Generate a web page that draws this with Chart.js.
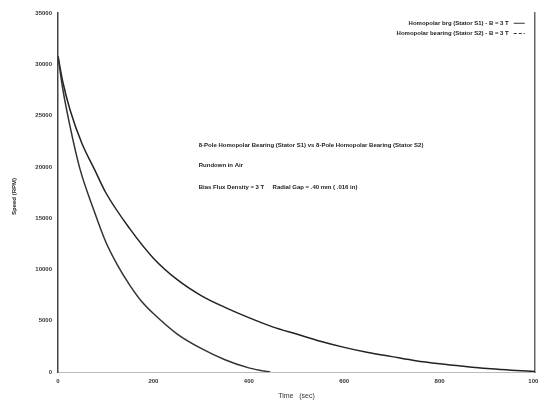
<!DOCTYPE html>
<html>
<head>
<meta charset="utf-8">
<script src="https://cdn.jsdelivr.net/npm/chart.js@4.4.1/dist/chart.umd.min.js"></script>
<style>
  html, body { margin: 0; padding: 0; background: #fff; }
  canvas { display: block; }
</style>
</head>
<body>
<canvas id="grafico" width="538" height="400"></canvas>
<script>
// Stator S1 (curva de abajo)
const tiempoS1 = [0, 10, 25, 46, 75, 100, 125, 150, 175, 200, 250, 300, 350, 400, 425, 445];
const velocidadS1 = [30800, 27600, 24000, 19800, 15800, 12700, 10400, 8500, 6900, 5700, 3700, 2300, 1200, 400, 150, 0];

// Stator S2 (curva de arriba)
const tiempoS2 = [0, 10, 25, 50, 76, 100, 150, 200, 250, 300, 350, 400, 450, 500, 550, 600, 650, 700, 750, 800, 850, 900, 950, 1000];
const velocidadS2 = [30800, 28300, 25600, 22300, 19800, 17500, 14000, 11100, 9000, 7450, 6300, 5300, 4400, 3700, 3000, 2400, 1900, 1500, 1100, 800, 550, 330, 180, 50];

const etiquetas = ['Homopolar brg (Stator S1) - B = 3 T', 'Homopolar bearing (Stator S2) - B = 3 T'];
const notas = [
  '8-Pole Homopolar Bearing (Stator S1) vs 8-Pole Homopolar Bearing (Stator S2)',
  'Rundown in Air',
  'Bias Flux Density = 3 T     Radial Gap = .40 mm ( .016 in)'
];

const fuente = { family: 'Liberation Sans, Arial, sans-serif', size: 6, weight: 'bold' };

function puntos(xs, ys) {
  return xs.map((x, i) => ({ x: x, y: ys[i] }));
}

// textos y leyenda dibujados dentro del area del grafico
const notasPlugin = {
  id: 'notas',
  afterDraw(chart) {
    const ctx = chart.ctx;
    const x = chart.scales.x, y = chart.scales.y;
    ctx.save();
    ctx.fillStyle = '#222';
    ctx.font = 'bold 6px Liberation Sans, Arial, sans-serif';
    ctx.textBaseline = 'middle';
    ctx.textAlign = 'left';
    const px = x.getPixelForValue(295);
    ctx.fillText(notas[0], px, y.getPixelForValue(22100));
    ctx.fillText(notas[1], px, y.getPixelForValue(20100));
    ctx.fillText(notas[2], px, y.getPixelForValue(18000));

    // leyenda
    ctx.textAlign = 'right';
    const lx = x.getPixelForValue(945);
    const filas = [34000, 33000];
    const guiones = [[], [3, 2]];
    for (let i = 0; i < 2; i++) {
      const ly = y.getPixelForValue(filas[i]);
      ctx.fillText(etiquetas[i], lx, ly);
      ctx.beginPath();
      ctx.setLineDash(guiones[i]);
      ctx.lineWidth = 1;
      ctx.strokeStyle = '#333';
      ctx.moveTo(lx + 5, ly);
      ctx.lineTo(lx + 16, ly);
      ctx.stroke();
    }
    ctx.setLineDash([]);

    // titulo del eje Y
    ctx.translate(14, (y.top + y.bottom) / 2 + 4);
    ctx.rotate(-Math.PI / 2);
    ctx.textAlign = 'center';
    ctx.fillText('Speed (RPM)', 0, 0);
    ctx.restore();
  }
};

new Chart(document.getElementById('grafico'), {
  type: 'line',
  data: {
    datasets: [
      {
        label: etiquetas[0],
        data: puntos(tiempoS1, velocidadS1),
        borderColor: '#333',
        borderWidth: 1.5,
        pointRadius: 0,
        cubicInterpolationMode: 'monotone',
        fill: false
      },
      {
        label: etiquetas[1],
        data: puntos(tiempoS2, velocidadS2),
        borderColor: '#222',
        borderWidth: 1.5,
        pointRadius: 0,
        cubicInterpolationMode: 'monotone',
        fill: false
      }
    ]
  },
  options: {
    responsive: false,
    animation: false,
    layout: { padding: { top: 13, right: 1, left: 0, bottom: 0 } },
    plugins: { legend: { display: false }, tooltip: { enabled: false } },
    scales: {
      x: {
        type: 'linear',
        min: 0, max: 1000,
        ticks: { stepSize: 200, color: '#333', font: fuente, padding: 6, maxRotation: 0, callback: v => String(v) },
        grid: { display: false, drawTicks: false },
        border: { display: true, color: '#bbb', dash: [2, 10] },
        title: { display: true, text: 'Time   (sec)', color: '#333', font: { family: 'Liberation Sans, Arial, sans-serif', size: 7 }, padding: { top: 2, bottom: 0 } },
        afterFit(scale) {
          scale.height = 28;
          scale.paddingLeft = 0;
          scale.paddingRight = 0;
        }
      },
      y: {
        min: 0, max: 35000,
        ticks: { stepSize: 5000, color: '#333', font: fuente, padding: 6, callback: v => String(v) },
        grid: { display: false, drawTicks: false },
        border: { display: true, color: '#444', width: 1.5 },
        afterFit(scale) { scale.width = 58; }
      },
      y2: {
        position: 'right',
        min: 0, max: 35000,
        ticks: { display: false },
        grid: { display: false, drawTicks: false },
        border: { display: true, color: '#666', width: 1.5 },
        afterFit(scale) { scale.width = 2; }
      }
    }
  },
  plugins: [notasPlugin]
});
</script>
</body>
</html>
